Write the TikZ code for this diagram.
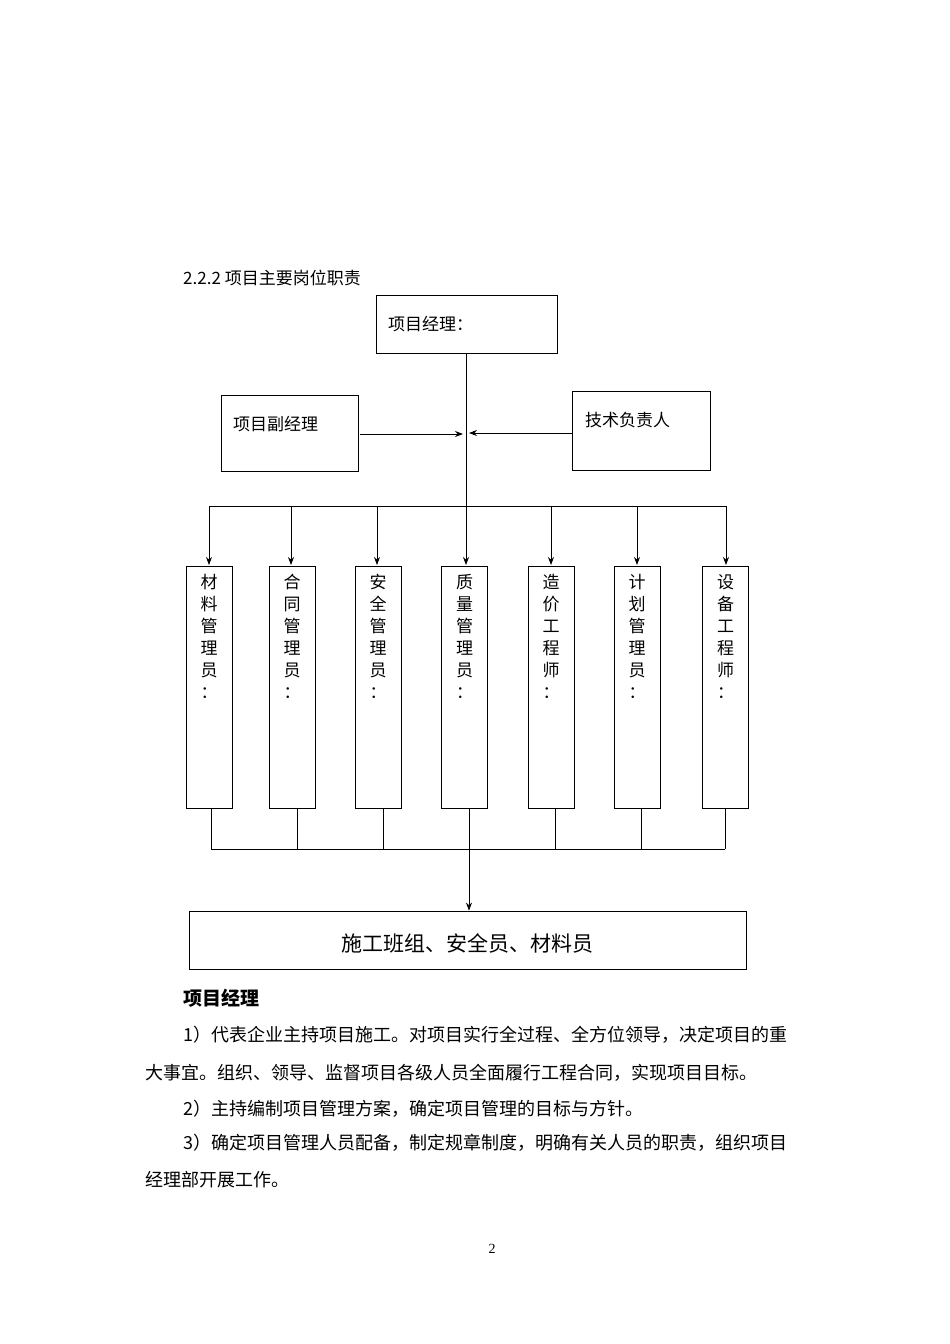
\documentclass[tikz,border=0pt]{standalone}
\usepackage{fontspec}
\setmainfont{Liberation Serif}
\newfontfamily\cjk{Noto Sans CJK SC}
\usetikzlibrary{arrows.meta}
\begin{document}
\begin{tikzpicture}[x=1pt,y=-1pt,
  box/.style={draw,line width=0.8pt,inner sep=0},
  lab/.style={anchor=west,inner sep=0,font=\fontsize{17}{17}\cjk},
  vbox/.style={draw,line width=0.8pt,minimum width=46pt,minimum height=242pt,inner sep=0},
  arr/.style={-{Stealth[length=8pt,width=6pt]},line width=0.8pt},
  ln/.style={line width=0.8pt},
  para/.style={anchor=west,inner sep=0,font=\fontsize{18}{18}\cjk}]
\fill[white] (0,0) rectangle (950,1344);
\useasboundingbox (0,0) rectangle (950,1344);
\node[lab] (title) at (183,278) {2.2.2 项目主要岗位职责};
\node[box,minimum width=181pt,minimum height=58pt] (pm) at (466.5,324) {};
\node[lab] (pmt) at (388,324) {项目经理：};
\node[box,minimum width=137pt,minimum height=76pt] (vpm) at (289.5,433) {};
\node[lab] (vpmt) at (233,424) {项目副经理};
\node[box,minimum width=138pt,minimum height=79pt] (tech) at (641,430.5) {};
\node[lab] (techt) at (585,420) {技术负责人};
\coordinate (j1) at (466,502);
\coordinate (j2) at (466,506);
\coordinate (al) at (463,434);
\coordinate (ar) at (469,433);
\draw[ln] (pm.south -| j1) -- (j2);
\draw[arr] (vpm.east |- al) ++(2,0) -- (al);
\draw[arr] (tech.west |- ar) -- (ar);
\draw[ln] (209,506) -- (726,506);
\foreach \n/\x/\cx/\t in {a/209/209/{材\\料\\管\\理\\员\\：},b/292/291/{合\\同\\管\\理\\员\\：},c/378/377/{安\\全\\管\\理\\员\\：},d/464.5/466/{质\\量\\管\\理\\员\\：},e/551/551/{造\\价\\工\\程\\师\\：},f/637/637/{计\\划\\管\\理\\员\\：},g/725.5/726/{设\\备\\工\\程\\师\\：}}{
  \node[vbox,anchor=north] (\n) at (\x,566) {};
  \node[anchor=north,inner sep=0,align=center,font=\fontsize{17}{22}\cjk] (\n t) at (\x,574) {\t};
  \draw[arr] (\cx,506) -- (\cx,565);
}
\coordinate (hl) at (211,849); \coordinate (hr) at (725,849);
\foreach \n/\x in {a/211,b/297,c/383,d/469,e/555,f/641,g/725}{
  \draw[ln] (\x,808) -- (\x,849);
}
\draw[ln] (hl) -- (hr);
\node[box,minimum width=557pt,minimum height=58pt] (crew) at (467.5,940) {};
\node[inner sep=0,font=\fontsize{21}{21}\cjk] (crewt) at (467.5,943) {施工班组、安全员、材料员};
\draw[arr] (469,849) -- (crew.north -| 469,0);
\node[anchor=west,inner sep=0,font=\fontsize{19}{19}\cjk\bfseries] (h) at (183,998) {项目经理};
\node[para] (p1) at (183,1035) {1）代表企业主持项目施工。对项目实行全过程、全方位领导，决定项目的重};
\node[para] (p2) at (145,1073) {大事宜。组织、领导、监督项目各级人员全面履行工程合同，实现项目目标。};
\node[para] (p3) at (183,1109) {2）主持编制项目管理方案，确定项目管理的目标与方针。};
\node[para] (p4) at (183,1143) {3）确定项目管理人员配备，制定规章制度，明确有关人员的职责，组织项目};
\node[para] (p5) at (145,1180) {经理部开展工作。};
\node[inner sep=0,font=\fontsize{14}{14}\selectfont] (pg) at (492,1249) {2};
\end{tikzpicture}
\end{document}
